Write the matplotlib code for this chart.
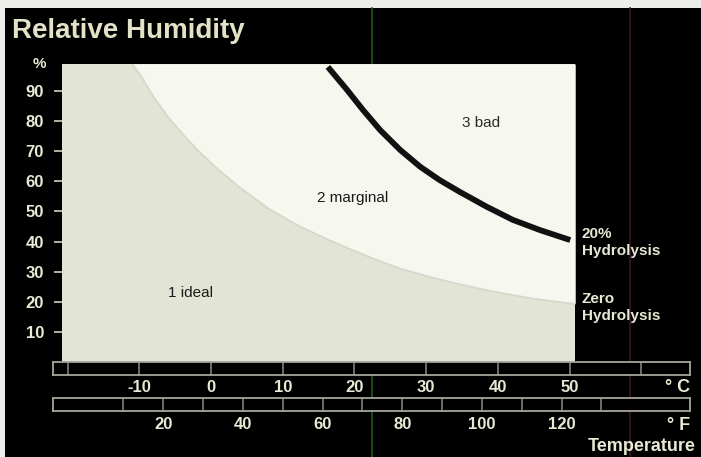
import matplotlib.pyplot as plt
from matplotlib.patches import Rectangle
from matplotlib.lines import Line2D
from matplotlib.transforms import blended_transform_factory

W, H = 701, 457

# pixel layout of the temperature scale: 0 degC at x=211, 7.17 px per degC
C0_PX = 211
PX_PER_C = 7.17
PX_PER_RH = 3.011

CREAM = "#e8e8d4"
FONT = "Liberation Sans"

rh_ticks = [10, 20, 30, 40, 50, 60, 70, 80, 90]
celsius_labels = [-10, 0, 10, 20, 30, 40, 50]
celsius_marks = [-20, -10, 0, 10, 20, 30, 40, 50, 60]
fahrenheit_labels = [20, 40, 60, 80, 100, 120]
fahrenheit_marks = [10, 20, 30, 40, 50, 60, 70, 80, 90, 100, 110, 120, 130]

# boundary between "ideal" and "marginal" (zero hydrolysis)
zero_temp = [-11.0, -9.9, -8.0, -5.7, -3.5, -1.5, 1.0, 4.0, 8.0, 12.0, 16.0,
             19.4, 23.0, 26.4, 30.0, 33.3, 37.0, 40.3, 45.0, 49.7, 50.8]
zero_rh = [99.0, 95.5, 88.0, 80.5, 74.5, 69.5, 64.0, 58.0, 51.0, 45.5, 41.0,
           37.5, 34.0, 31.0, 28.6, 26.6, 24.6, 23.0, 21.0, 19.6, 19.3]

# 20 % hydrolysis limit
twenty_temp = [16.3, 19.0, 21.2, 23.6, 26.4, 29.2, 31.9, 34.7, 38.5, 42.1,
               45.9, 50.1]
twenty_rh = [98.0, 90.3, 83.7, 77.0, 70.4, 64.8, 60.4, 56.5, 51.5, 47.2,
             43.8, 40.5]


def to_c(px):
    return (px - C0_PX) / PX_PER_C


def f_to_c(f):
    return (f - 32) * 5 / 9


def box(x0, y0, x1, y1):
    return [x0 / W, 1 - y1 / H, (x1 - x0) / W, (y1 - y0) / H]


def fy(py):
    return 1 - py / H


fig = plt.figure(figsize=(W / 100, H / 100), dpi=100, facecolor="#ededeb")
fig.add_artist(Rectangle((5 / W, 0), 1, fy(8), transform=fig.transFigure,
                         facecolor="black", edgecolor="none", zorder=-3))
# faint vertical streaks across the black panel
fig.add_artist(Line2D([372 / W] * 2, [0, fy(8)], transform=fig.transFigure,
                      color="#1d5a22", lw=1.2, zorder=-2))
fig.add_artist(Line2D([630 / W] * 2, [0, fy(8)], transform=fig.transFigure,
                      color="#3a1420", lw=1.2, zorder=-2))

# main chart
ax = fig.add_axes(box(62, 64, 575, 362))
ymax = (362 - 64) / PX_PER_RH
ax.set_xlim(to_c(62), to_c(575))
ax.set_ylim(0, ymax)
ax.set_facecolor("#e2e5d5")
ax.fill_between(zero_temp, zero_rh, ymax, color="#f6f7ef", lw=0)
ax.plot(zero_temp, zero_rh, color="#d0d3c6", lw=1.3, alpha=0.8)
ax.plot(twenty_temp, twenty_rh, color="#111111", lw=4.2, solid_capstyle="butt")
for s in ax.spines.values():
    s.set_visible(False)
ax.set_xticks([])
ax.set_yticks(rh_ticks)
ax.tick_params(axis="y", length=6, width=1.2, color="#cfcfbf", pad=7,
               labelcolor=CREAM, labelsize=12)
for lab in ax.get_yticklabels():
    lab.set_fontfamily(FONT)
    lab.set_fontweight("bold")

ax.text(-2.8, 21.6, "1 ideal", ha="center", va="baseline", fontsize=11,
        family=FONT, color="#1a1a1a")
ax.text(19.7, 53.1, "2 marginal", ha="center", va="baseline", fontsize=11,
        family=FONT, color="#1a1a1a")
ax.text(37.7, 78.0, "3 bad", ha="center", va="baseline", fontsize=11,
        family=FONT, color="#2a2a22")


def temp_bar(y0, y1, marks):
    b = fig.add_axes(box(53, y0, 690, y1))
    b.set_xlim(to_c(53), to_c(690))
    b.set_ylim(0, 1)
    b.set_facecolor("black")
    b.vlines(marks, 0, 1, color="#8c8c80", lw=1.1)
    for s in b.spines.values():
        s.set_color("#a6a69a")
        s.set_linewidth(1.3)
    b.set_xticks([])
    b.set_yticks([])
    return b


cbar = temp_bar(362, 375, celsius_marks)
fbar = temp_bar(398, 411, [f_to_c(f) for f in fahrenheit_marks])

ctrans = blended_transform_factory(cbar.transData, fig.transFigure)
for c in celsius_labels:
    cbar.text(c, fy(392), str(c), transform=ctrans, ha="center", va="baseline",
              fontsize=12, fontweight="bold", family=FONT, color=CREAM)

ftrans = blended_transform_factory(fbar.transData, fig.transFigure)
for f in fahrenheit_labels:
    fbar.text(f_to_c(f), fy(429), str(f), transform=ftrans, ha="center",
              va="baseline", fontsize=12, fontweight="bold", family=FONT,
              color=CREAM)

bold = dict(family=FONT, fontweight="bold", color=CREAM)
fig.text(12 / W, fy(38), "Relative Humidity", fontsize=20, va="baseline",
         color="#e2e2c6", family=FONT, fontweight="bold")
fig.text(39 / W, fy(68), "%", fontsize=11, ha="center", va="baseline", **bold)
fig.text(690 / W, fy(392), "° C", fontsize=13, ha="right", va="baseline", **bold)
fig.text(690 / W, fy(430), "° F", fontsize=13, ha="right", va="baseline", **bold)
fig.text(696 / W, fy(451), "Temperature", fontsize=13, ha="right",
         va="baseline", **bold)
fig.text(582 / W, fy(238), "20%", fontsize=11, va="baseline", **bold)
fig.text(582 / W, fy(255), "Hydrolysis", fontsize=11, va="baseline", **bold)
fig.text(582 / W, fy(303), "Zero", fontsize=11, va="baseline", **bold)
fig.text(582 / W, fy(320), "Hydrolysis", fontsize=11, va="baseline", **bold)

fig.savefig("out.png", dpi=100, facecolor=fig.get_facecolor())
